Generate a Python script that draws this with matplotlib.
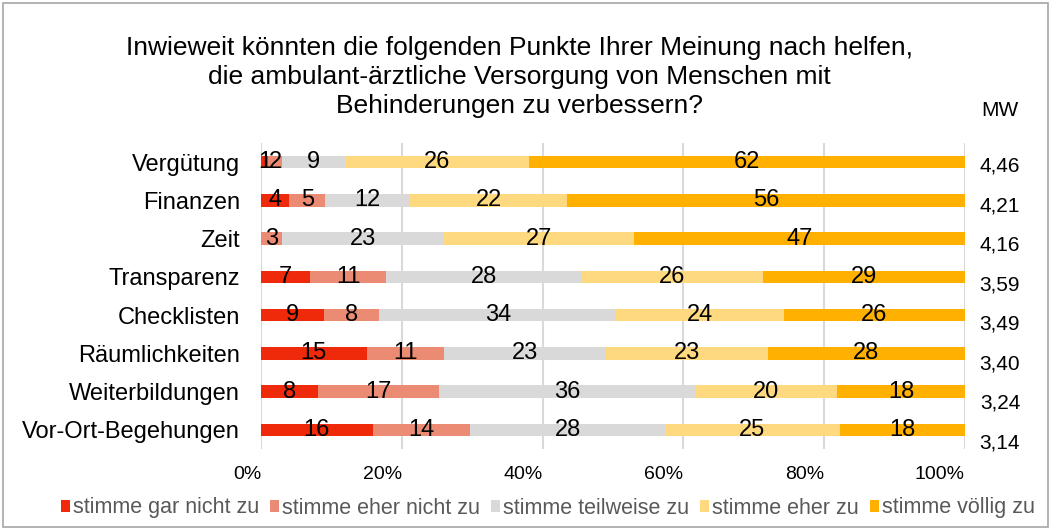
import matplotlib.pyplot as plt
from matplotlib.patches import Rectangle

plt.rcParams["font.family"] = ["Liberation Sans", "DejaVu Sans"]

categories = ["Vergütung", "Finanzen", "Zeit", "Transparenz", "Checklisten",
              "Räumlichkeiten", "Weiterbildungen", "Vor-Ort-Begehungen"]
series = ["stimme gar nicht zu", "stimme eher nicht zu", "stimme teilweise zu",
          "stimme eher zu", "stimme völlig zu"]
values = [
    [1, 4, 0, 7, 9, 15, 8, 16],
    [2, 5, 3, 11, 8, 11, 17, 14],
    [9, 12, 23, 28, 34, 23, 36, 28],
    [26, 22, 27, 26, 24, 23, 20, 25],
    [62, 56, 47, 29, 26, 28, 18, 18],
]
mw = ["4,46", "4,21", "4,16", "3,59", "3,49", "3,40", "3,24", "3,14"]
colors = ["#EE2A0B", "#EC8B74", "#D9D9D9", "#FFD97F", "#FFB000"]

fig = plt.figure(figsize=(10.51, 5.30), dpi=100)
ax = fig.add_axes([261 / 1051, 1 - 449 / 530, 704 / 1051, 306 / 530])

# 100%-gestapelt: Anteile je Zeile auf Summe normiert
totals = [sum(v[i] for v in values) for i in range(len(categories))]
ypos = list(range(len(categories)))
left = [0.0] * len(categories)
for s, name in enumerate(series):
    widths = [values[s][i] / totals[i] * 100 for i in range(len(categories))]
    ax.barh(ypos, widths, left=left, height=0.33, color=colors[s], label=name, zorder=2)
    for i, w in enumerate(widths):
        if values[s][i] > 0:
            ax.text(left[i] + w / 2, i, str(values[s][i]), ha="center", va="center",
                    fontsize=17, color="black", zorder=3)
    left = [left[i] + widths[i] for i in range(len(categories))]

ax.set_xlim(0, 100)
ax.set_ylim(len(categories) - 0.5, -0.5)
ax.set_yticks(ypos)
ax.set_yticklabels(categories, fontsize=17)
ax.set_xticks(range(0, 101, 20))
ax.set_xticklabels([f"{t}%" for t in range(0, 101, 20)], fontsize=14, ha="right")
ax.tick_params(length=0)
ax.tick_params(axis="x", pad=12)
ax.tick_params(axis="y", pad=15)
ax.grid(axis="x", color="#D9D9D9", linewidth=1.5, zorder=0)
for sp in ax.spines.values():
    sp.set_visible(False)

fig.text(519 / 1051, 1 - 77 / 530,
         "Inwieweit könnten die folgenden Punkte Ihrer Meinung nach helfen,\n"
         "die ambulant-ärztliche Versorgung von Menschen mit\n"
         "Behinderungen zu verbessern?",
         ha="center", va="center", fontsize=19, linespacing=1.24)

fig.text(1000 / 1051, 1 - 110 / 530, "MW", ha="center", va="center", fontsize=15)
for i, m in enumerate(mw):
    y = 166 + i * (443 - 166) / 7
    fig.text(1000 / 1051, 1 - y / 530, m, ha="center", va="center", fontsize=15)

fig.legend(loc="center", bbox_to_anchor=(548 / 1051, 1 - 508 / 530), ncol=5, frameon=False,
           fontsize=15.5, handlelength=0.42, handleheight=0.5, handletextpad=0.15,
           columnspacing=0.5, labelcolor="#595959")

fig.patches.append(Rectangle((3 / 1051, 3 / 530), 1045 / 1051, 524 / 530,
                             transform=fig.transFigure, fill=False,
                             edgecolor="#A6A6A6", linewidth=1.2))

fig.savefig("out.png", dpi=100)
